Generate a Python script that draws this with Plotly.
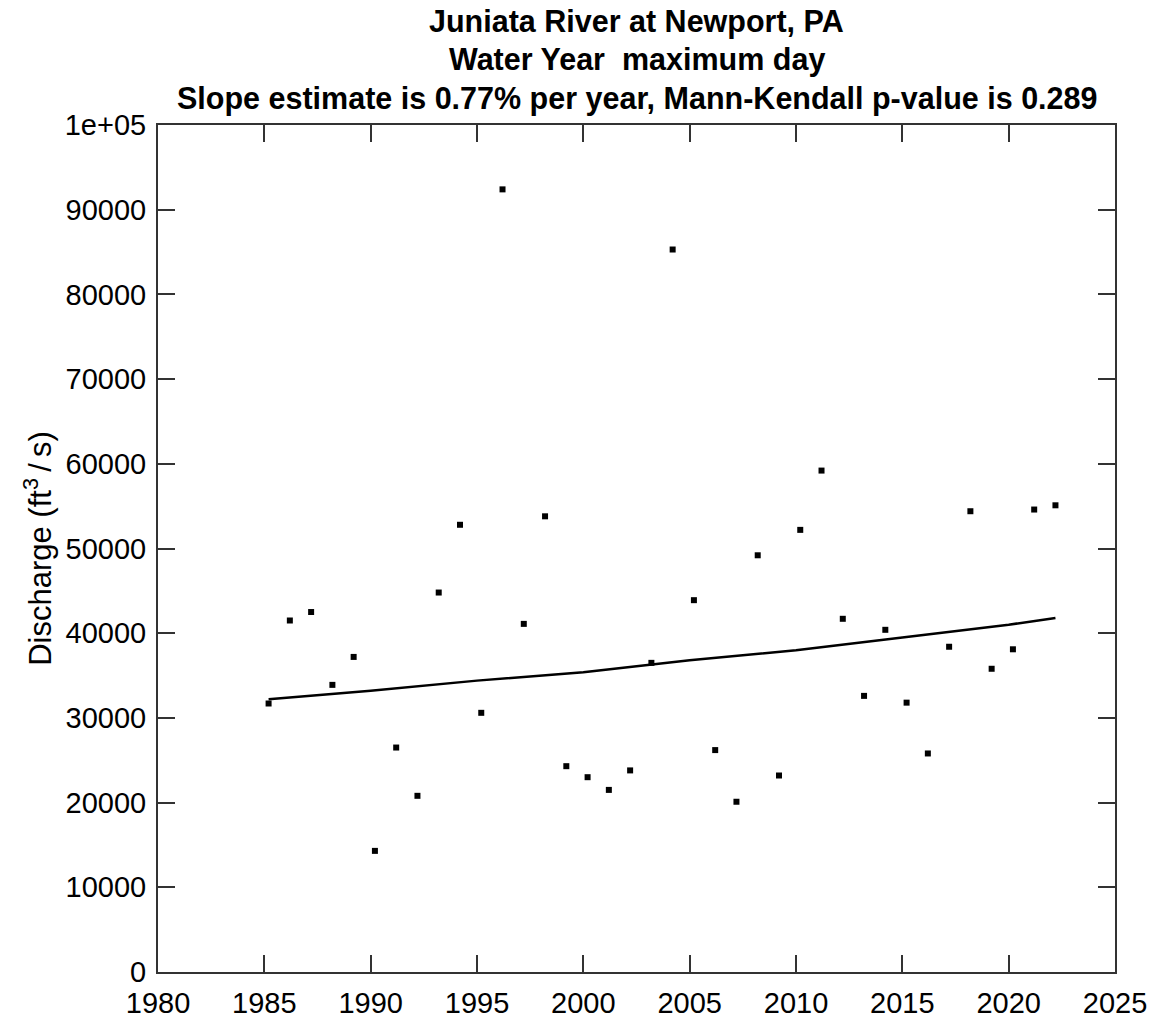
import plotly.graph_objects as go

years = [1985.2, 1986.2, 1987.2, 1988.2, 1989.2, 1990.2, 1991.2, 1992.2, 1993.2, 1994.2,
         1995.2, 1996.2, 1997.2, 1998.2, 1999.2, 2000.2, 2001.2, 2002.2, 2003.2, 2004.2,
         2005.2, 2006.2, 2007.2, 2008.2, 2009.2, 2010.2, 2011.2, 2012.2, 2013.2, 2014.2,
         2015.2, 2016.2, 2017.2, 2018.2, 2019.2, 2020.2, 2021.2, 2022.2]
discharge = [31700, 41500, 42500, 33900, 37200, 14300, 26500, 20800, 44800, 52800,
             30600, 92400, 41100, 53800, 24300, 23000, 21500, 23800, 36500, 85300,
             43900, 26200, 20100, 49200, 23200, 52200, 59200, 41700, 32600, 40400,
             31800, 25800, 38400, 54400, 35800, 38100, 54600, 55100]

trend_years = [1985.2, 1990.0, 1995.0, 2000.0, 2005.0, 2010.0, 2015.0, 2020.0, 2022.2]
trend_vals = [32200, 33200, 34400, 35400, 36800, 38000, 39500, 41000, 41800]

x_ticks = [1980, 1985, 1990, 1995, 2000, 2005, 2010, 2015, 2020, 2025]
y_ticks = [0, 10000, 20000, 30000, 40000, 50000, 60000, 70000, 80000, 90000, 100000]
y_tick_text = ["0", "10000", "20000", "30000", "40000", "50000", "60000", "70000",
               "80000", "90000", "1e+05"]

title_lines = ["Juniata River at Newport, PA",
               "Water Year  maximum day",
               "Slope estimate is 0.77% per year, Mann-Kendall p-value is 0.289"]

FONT = "Liberation Sans, Arial, sans-serif"

fig = go.Figure()
fig.add_trace(go.Scatter(x=trend_years, y=trend_vals, mode="lines",
                         line=dict(color="black", width=2.5), hoverinfo="skip"))
fig.add_trace(go.Scatter(x=years, y=discharge, mode="markers",
                         marker=dict(symbol="square", size=6, color="black",
                                     line=dict(width=0))))

axis_common = dict(showline=True, linecolor="#333333", linewidth=2, mirror="ticks",
                   ticks="inside", ticklen=17, tickwidth=2, tickcolor="#333333",
                   showgrid=False, zeroline=False, automargin=False,
                   tickfont=dict(family=FONT, size=29, color="black"))

fig.update_xaxes(range=[1980, 2025], tickvals=x_ticks, ticklabelstandoff=4, **axis_common)
fig.update_yaxes(range=[0, 100000], tickvals=y_ticks, ticktext=y_tick_text,
                 ticklabelstandoff=4,
                 title=dict(text="Discharge (ft<sup>3</sup>\u2009/\u2009s)",
                            font=dict(family=FONT, size=31, color="black"), standoff=4),
                 **axis_common)

for i, t in enumerate(title_lines):
    fig.add_annotation(text="<b>" + t + "</b>", xref="paper", yref="paper",
                       x=0.5, y=1, yshift=104 - 38.5 * i, xanchor="center", yanchor="middle",
                       showarrow=False, font=dict(family=FONT, size=30.5, color="black"))

fig.update_layout(width=1156, height=1024, margin=dict(l=158, r=41, t=125, b=52),
                  plot_bgcolor="white", paper_bgcolor="white", showlegend=False)

fig.write_html("out.html")
